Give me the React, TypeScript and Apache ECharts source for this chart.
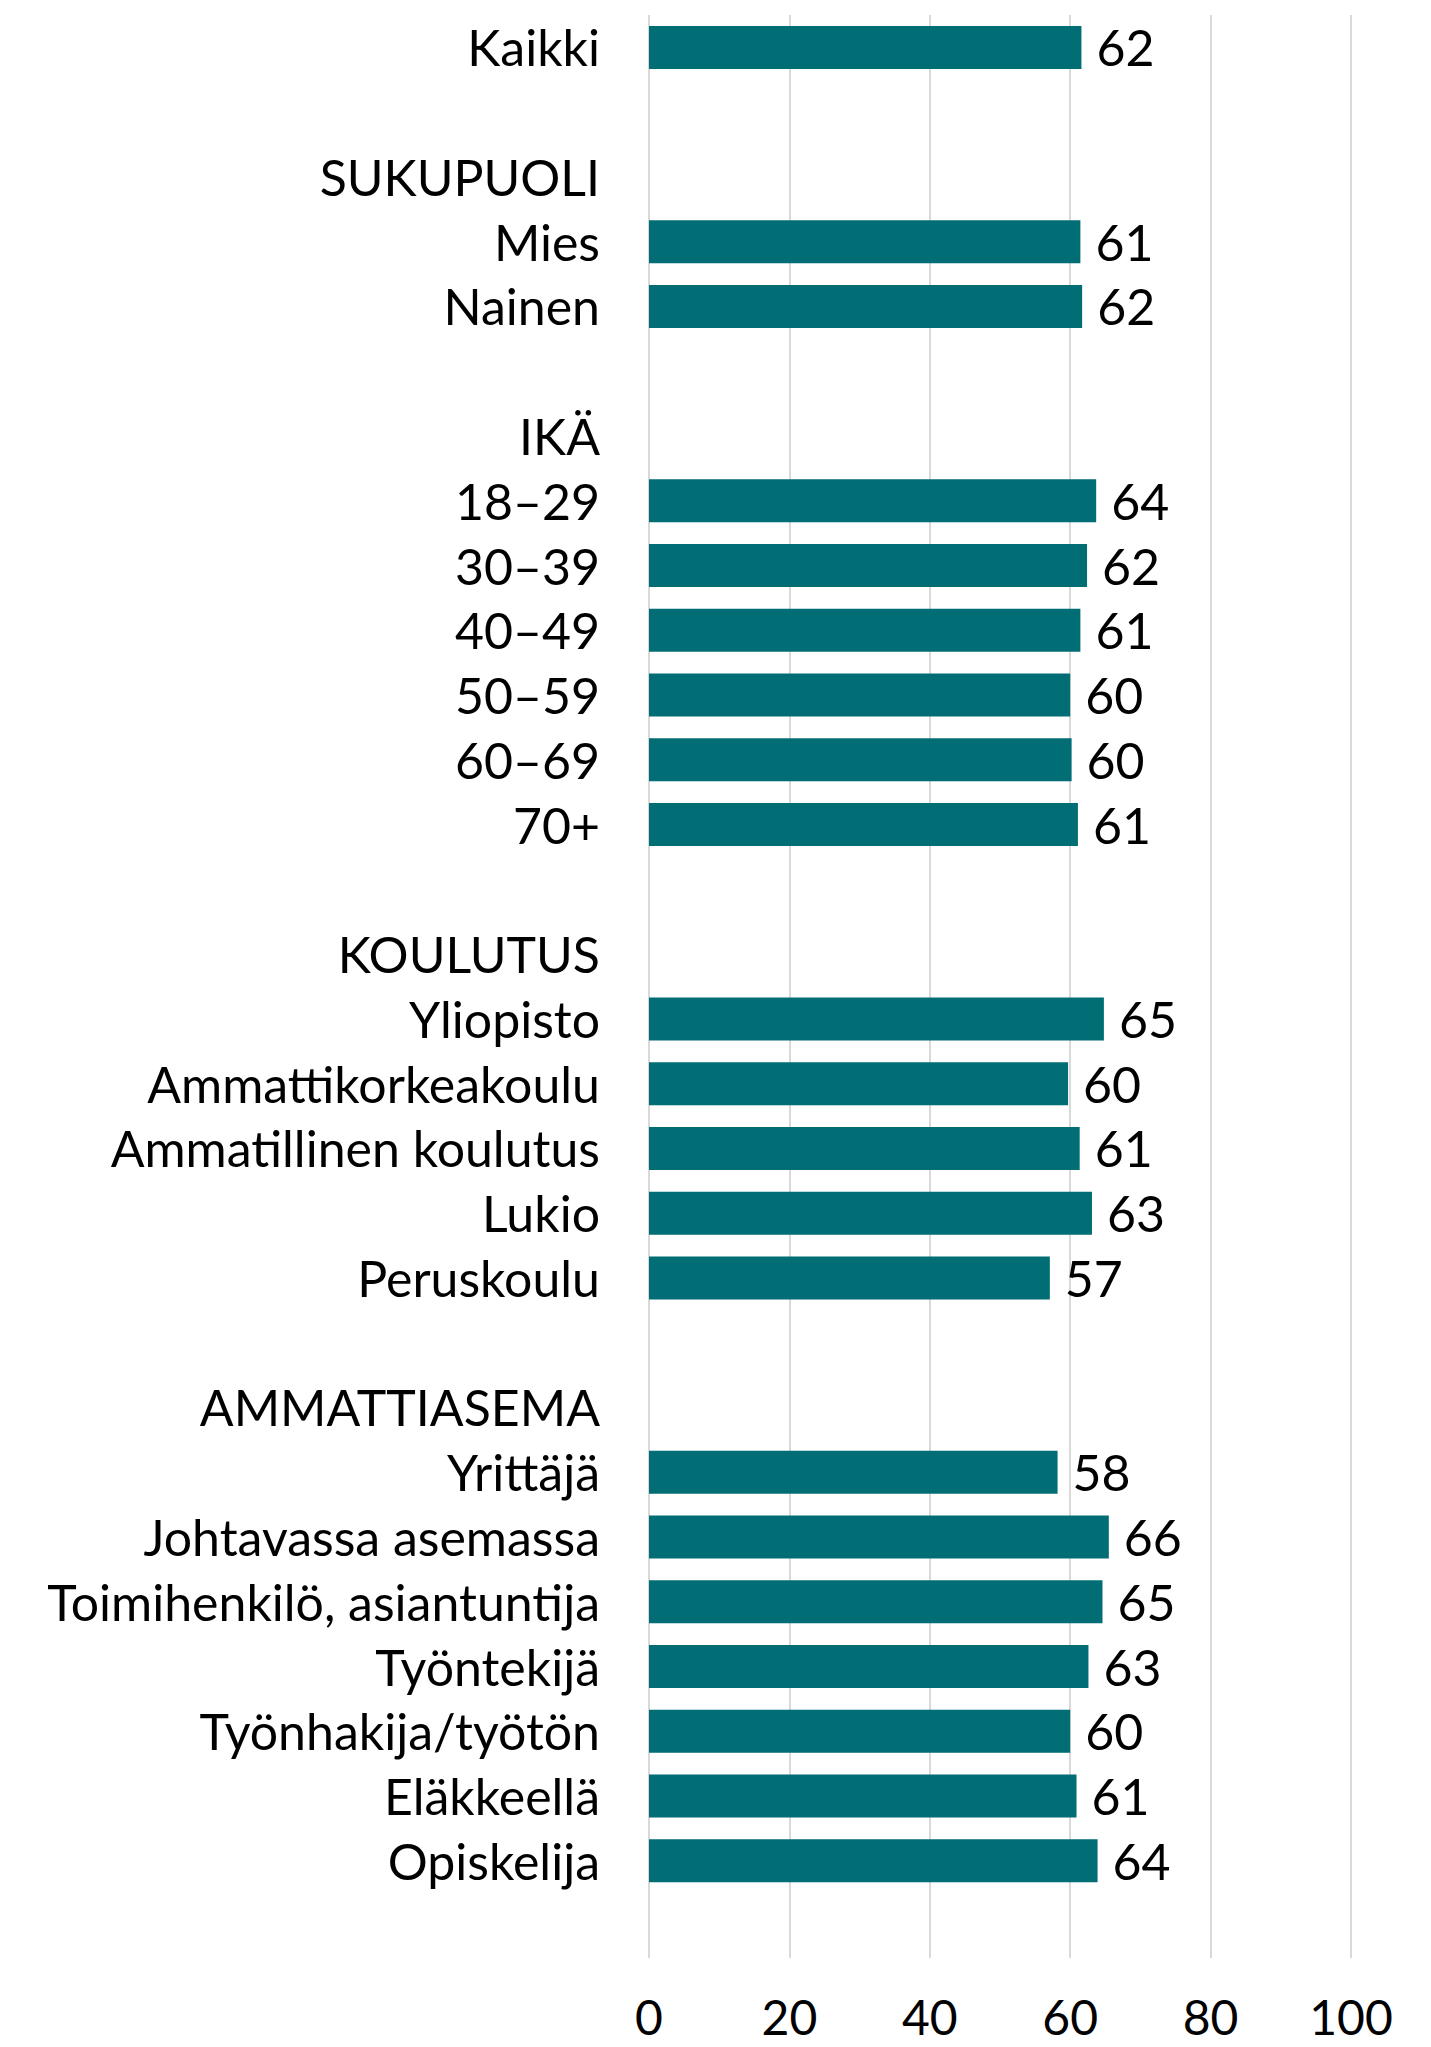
import React, { useEffect, useRef } from "react";
import * as echarts from "echarts";

const categories = [
  "Kaikki",
  " ",
  "SUKUPUOLI",
  "Mies",
  "Nainen",
  "  ",
  "IKÄ",
  "18–29",
  "30–39",
  "40–49",
  "50–59",
  "60–69",
  "70+",
  "   ",
  "KOULUTUS",
  "Yliopisto",
  "Ammattikorkeakoulu",
  "Ammatillinen koulutus",
  "Lukio",
  "Peruskoulu",
  "    ",
  "AMMATTIASEMA",
  "Yrittäjä",
  "Johtavassa asemassa",
  "Toimihenkilö, asiantuntija",
  "Työntekijä",
  "Työnhakija/työtön",
  "Eläkkeellä",
  "Opiskelija",
  "     ",
];

const values: (number | null)[] = [
  61.6, null, null, 61.45, 61.7, null, null,
  63.7, 62.4, 61.45, 60.0, 60.2, 61.1, null, null,
  64.8, 59.7, 61.35, 63.1, 57.1, null, null,
  58.2, 65.5, 64.6, 62.6, 60.0, 60.9, 63.9, null,
];

const shownLabels: (string | null)[] = [
  "62", null, null, "61", "62", null, null,
  "64", "62", "61", "60", "60", "61", null, null,
  "65", "60", "61", "63", "57", null, null,
  "58", "66", "65", "63", "60", "61", "64", null,
];

const xTicks = [0, 20, 40, 60, 80, 100];

const FONT = "Lato";
const FS = 50;

export default function App() {
  const ref = useRef<HTMLDivElement>(null);
  useEffect(() => {
    if (!ref.current) return;
    const chart = echarts.init(ref.current, undefined, { renderer: "svg" });
    chart.setOption({
      animation: false,
      backgroundColor: "#ffffff",
      grid: { left: 649, right: 80, top: 15, bottom: 89, containLabel: false },
      xAxis: {
        type: "value",
        min: xTicks[0],
        max: xTicks[xTicks.length - 1],
        interval: 20,
        axisLine: { show: false },
        axisTick: { show: false },
        splitLine: { show: true, lineStyle: { color: "#d9d9d9", width: 2 } },
        axisLabel: {
          margin: 38,
          color: "#000000",
          fontFamily: FONT,
          fontSize: 48,
          lineHeight: 40,
        },
      },
      yAxis: {
        type: "category",
        inverse: true,
        data: categories,
        axisLine: { show: false },
        axisTick: { show: false },
        axisLabel: {
          interval: 0,
          margin: 49,
          color: "#000000",
          fontFamily: FONT,
          fontSize: FS,
        },
      },
      series: [
        {
          type: "bar",
          data: values,
          barWidth: 43,
          itemStyle: { color: "#016D74" },
          label: {
            show: true,
            position: "right",
            distance: 15,
            color: "#000000",
            fontFamily: FONT,
            fontSize: FS,
            formatter: (p: any) => shownLabels[p.dataIndex] ?? "",
          },
        },
      ],
    });
    return () => chart.dispose();
  }, []);
  return (
    <div
      ref={ref}
      style={{ position: "absolute", left: 0, top: 0, width: 1431, height: 2047 }}
    />
  );
}
